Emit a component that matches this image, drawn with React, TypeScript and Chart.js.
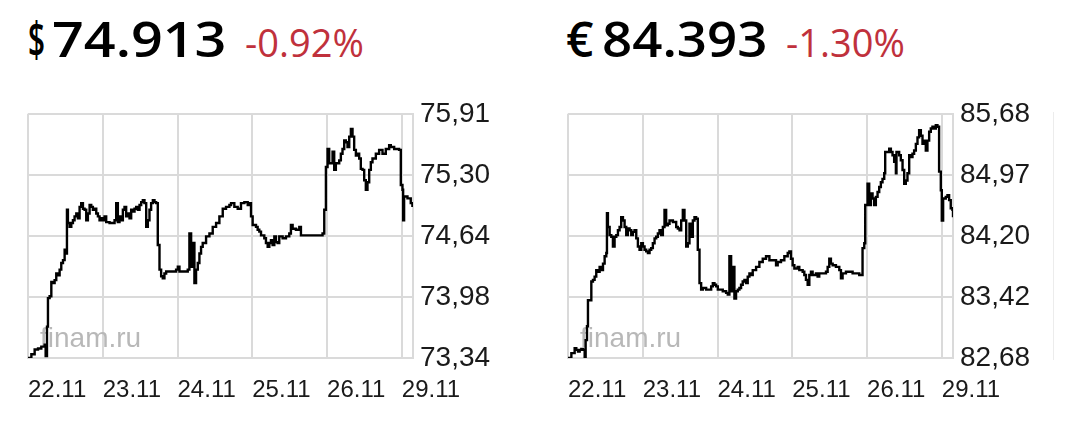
import { useEffect, useRef } from "react"
import { Chart, registerables } from "chart.js"

Chart.register(...registerables)

// trading days on the x axis (one unit per session)
const dayLabels = ["22.11", "23.11", "24.11", "25.11", "26.11", "29.11"]
const xMax = 5.15

const usdTicks = ["73,34", "73,98", "74,64", "75,30", "75,91"]
const eurTicks = ["82,68", "83,42", "84,20", "84,97", "85,68"]

const usdTime = [
  0, 0.045, 0.089, 0.134, 0.178, 0.223, 0.236, 0.254, 0.267, 0.289, 0.312, 0.334, 0.356, 0.378, 0.401, 0.423,
  0.445, 0.468, 0.49, 0.512, 0.521, 0.534, 0.557, 0.579, 0.601, 0.623, 0.646, 0.668, 0.69, 0.712, 0.735, 0.757,
  0.779, 0.801, 0.824, 0.846, 0.868, 0.89, 0.913, 0.935, 0.957, 0.98, 1.002, 1.024, 1.046, 1.091, 1.135, 1.158,
  1.18, 1.202, 1.224, 1.247, 1.269, 1.291, 1.313, 1.336, 1.358, 1.38, 1.403, 1.425, 1.447, 1.469, 1.492, 1.514,
  1.536, 1.558, 1.581, 1.603, 1.625, 1.647, 1.67, 1.692, 1.714, 1.736, 1.759, 1.781, 1.803, 1.825, 1.848, 1.937,
  1.981, 2.004, 2.026, 2.115, 2.137, 2.159, 2.182, 2.204, 2.226, 2.248, 2.271, 2.293, 2.315, 2.337, 2.382, 2.427,
  2.471, 2.516, 2.56, 2.605, 2.649, 2.694, 2.716, 2.76, 2.805, 2.849, 2.894, 2.939, 2.961, 2.983, 3.005, 3.05,
  3.072, 3.094, 3.117, 3.161, 3.183, 3.206, 3.228, 3.25, 3.272, 3.295, 3.317, 3.339, 3.361, 3.406, 3.451, 3.495,
  3.517, 3.54, 3.584, 3.629, 3.651, 3.762, 3.896, 3.94, 3.963, 3.985, 4.007, 4.029, 4.074, 4.096, 4.118, 4.163,
  4.185, 4.207, 4.23, 4.252, 4.274, 4.297, 4.319, 4.341, 4.363, 4.386, 4.408, 4.43, 4.452, 4.475, 4.497, 4.519,
  4.541, 4.564, 4.586, 4.608, 4.653, 4.697, 4.742, 4.786, 4.831, 4.853, 4.898, 4.942, 4.964, 4.987, 5.009, 5.018,
  5.031, 5.076, 5.12, 5.142,
]

const usdRate = [
  73.34, 73.38, 73.43, 73.44, 73.46, 73.48, 73.36, 73.67, 73.97, 73.99, 74.14, 74.13, 74.16, 74.23, 74.21, 74.27,
  74.34, 74.37, 74.48, 74.44, 74.9, 74.76, 74.72, 74.76, 74.79, 74.83, 74.86, 74.81, 74.93, 74.97, 74.91, 74.9,
  74.79, 74.86, 74.95, 74.93, 74.9, 74.91, 74.86, 74.83, 74.79, 74.81, 74.79, 74.83, 74.77, 74.76, 74.76, 74.79,
  74.97, 74.77, 74.83, 74.79, 74.9, 74.93, 74.83, 74.86, 74.81, 74.9, 74.88, 74.91, 74.93, 74.9, 74.95, 74.98,
  75.0, 74.97, 74.72, 74.79, 74.9, 74.97, 75.0, 74.98, 74.97, 74.53, 74.27, 74.2, 74.18, 74.23, 74.25, 74.25,
  74.27, 74.3, 74.25, 74.25, 74.27, 74.65, 74.3, 74.55, 74.13, 74.27, 74.34, 74.44, 74.51, 74.55, 74.62, 74.65,
  74.72, 74.76, 74.83, 74.91, 74.93, 74.95, 74.97, 74.93, 74.91, 74.97, 74.98, 74.95, 74.97, 74.83, 74.74, 74.72,
  74.69, 74.67, 74.63, 74.6, 74.55, 74.51, 74.55, 74.58, 74.53, 74.62, 74.56, 74.55, 74.62, 74.6, 74.62, 74.65,
  74.74, 74.7, 74.69, 74.72, 74.63, 74.63, 74.63, 74.65, 74.9, 75.35, 75.54, 75.39, 75.51, 75.32, 75.39, 75.42,
  75.49, 75.54, 75.63, 75.61, 75.56, 75.67, 75.75, 75.67, 75.53, 75.47, 75.49, 75.44, 75.33, 75.32, 75.21, 75.11,
  75.19, 75.32, 75.4, 75.44, 75.49, 75.53, 75.49, 75.54, 75.58, 75.56, 75.54, 75.54, 75.53, 75.16, 75.11, 74.79,
  75.04, 75.02, 74.97, 74.93,
]

const eurTime = [
  0, 0.045, 0.089, 0.111, 0.134, 0.156, 0.178, 0.2, 0.223, 0.236, 0.254, 0.267, 0.289, 0.312, 0.334, 0.356,
  0.378, 0.401, 0.423, 0.445, 0.468, 0.49, 0.512, 0.521, 0.534, 0.557, 0.579, 0.601, 0.623, 0.646, 0.668, 0.69,
  0.712, 0.735, 0.757, 0.779, 0.801, 0.824, 0.846, 0.868, 0.89, 0.913, 0.935, 0.957, 0.98, 1.002, 1.024, 1.046,
  1.069, 1.091, 1.113, 1.135, 1.158, 1.18, 1.202, 1.224, 1.247, 1.269, 1.291, 1.313, 1.336, 1.358, 1.403, 1.447,
  1.469, 1.492, 1.514, 1.536, 1.558, 1.581, 1.603, 1.625, 1.647, 1.67, 1.692, 1.714, 1.736, 1.759, 1.781, 1.803,
  1.848, 1.892, 1.915, 1.937, 1.959, 1.981, 2.004, 2.026, 2.07, 2.115, 2.137, 2.159, 2.182, 2.204, 2.226, 2.248,
  2.271, 2.293, 2.315, 2.337, 2.36, 2.382, 2.404, 2.427, 2.449, 2.471, 2.516, 2.56, 2.605, 2.649, 2.694, 2.738,
  2.783, 2.805, 2.849, 2.894, 2.939, 2.961, 2.983, 3.005, 3.028, 3.072, 3.094, 3.139, 3.161, 3.183, 3.206, 3.228,
  3.25, 3.272, 3.317, 3.339, 3.361, 3.406, 3.451, 3.473, 3.495, 3.517, 3.54, 3.584, 3.629, 3.651, 3.673, 3.718,
  3.762, 3.807, 3.851, 3.896, 3.918, 3.94, 3.963, 3.976, 4.007, 4.029, 4.052, 4.074, 4.096, 4.118, 4.141, 4.163,
  4.185, 4.207, 4.23, 4.243, 4.274, 4.297, 4.319, 4.341, 4.363, 4.386, 4.394, 4.43, 4.452, 4.475, 4.497, 4.519,
  4.541, 4.564, 4.586, 4.608, 4.63, 4.653, 4.675, 4.697, 4.72, 4.742, 4.764, 4.786, 4.808, 4.831, 4.853, 4.875,
  4.898, 4.92, 4.942, 4.964, 4.987, 5.0, 5.018, 5.053, 5.076, 5.098, 5.12, 5.142, 5.15,
]

const eurRate = [
  82.68, 82.74, 82.8, 82.78, 82.76, 82.78, 82.79, 82.78, 82.68, 82.9, 83.07, 83.39, 83.39, 83.62, 83.64, 83.68,
  83.76, 83.74, 83.8, 83.76, 83.84, 83.93, 83.97, 84.46, 84.29, 84.19, 84.17, 84.05, 84.17, 84.19, 84.25, 84.29,
  84.41, 84.37, 84.29, 84.19, 84.27, 84.25, 84.19, 84.23, 84.25, 84.15, 84.05, 84.01, 84.09, 84.05, 84.01, 83.99,
  83.97, 84.01, 84.03, 84.09, 84.15, 84.17, 84.21, 84.25, 84.19, 84.29, 84.5, 84.31, 84.33, 84.37, 84.35, 84.29,
  84.27, 84.25, 84.37, 84.5, 84.37, 84.05, 84.09, 84.33, 84.17, 84.37, 84.41, 84.39, 84.01, 83.6, 83.52, 83.54,
  83.52, 83.52, 83.56, 83.6, 83.58, 83.56, 83.52, 83.52, 83.5, 83.48, 83.46, 83.93, 83.5, 83.8, 83.41, 83.5,
  83.52, 83.54, 83.58, 83.62, 83.64, 83.6, 83.68, 83.72, 83.7, 83.76, 83.8, 83.86, 83.9, 83.93, 83.88, 83.88,
  83.82, 83.86, 83.88, 83.93, 83.97, 83.99, 83.9, 83.82, 83.78, 83.8, 83.76, 83.74, 83.7, 83.64, 83.58, 83.7,
  83.74, 83.7, 83.72, 83.68, 83.72, 83.72, 83.74, 83.8, 83.9, 83.84, 83.82, 83.8, 83.76, 83.66, 83.72, 83.74,
  83.74, 83.72, 83.72, 83.7, 83.7, 84.03, 84.09, 84.56, 84.82, 84.56, 84.7, 84.64, 84.56, 84.66, 84.72, 84.78,
  84.84, 84.88, 84.95, 85.21, 85.21, 85.25, 85.21, 85.17, 85.09, 84.95, 85.21, 85.17, 85.11, 84.99, 84.82, 84.86,
  84.95, 85.17, 85.15, 85.19, 85.23, 85.31, 85.39, 85.48, 85.41, 85.31, 85.35, 85.23, 85.35, 85.46, 85.5, 85.52,
  85.5, 85.54, 85.52, 84.97, 84.74, 84.37, 84.64, 84.66, 84.68, 84.62, 84.52, 84.5, 84.41,
]

const GRID = "#dadada"
const TEXT = "#1a1a1a"

// "finam.ru" mark under the line
const watermark = {
  id: "watermark",
  beforeDatasetsDraw(chart: any) {
    const { ctx, chartArea } = chart
    ctx.save()
    ctx.font = '28px "Liberation Sans"'
    ctx.fillStyle = "#b8b8b8"
    ctx.textBaseline = "alphabetic"
    ctx.fillText("finam.ru", chartArea.left + 12, chartArea.bottom - 11)
    ctx.restore()
  },
}

const toNum = (s: string) => parseFloat(s.replace(",", "."))

interface RateChartProps {
  times: number[]
  rates: number[]
  tickLabels: string[]
  left: number
}

function RateChart({ times, rates, tickLabels, left }: RateChartProps) {
  const chartRef = useRef<HTMLCanvasElement>(null)

  useEffect(() => {
    if (!chartRef.current) return
    const ctx = chartRef.current.getContext("2d")
    if (!ctx) return

    const min = toNum(tickLabels[0])
    const max = toNum(tickLabels[tickLabels.length - 1])
    const step = (max - min) / (tickLabels.length - 1)

    const chart = new Chart(ctx, {
      type: "line",
      data: {
        datasets: [
          {
            data: times.map((t, i) => ({ x: t, y: rates[i] })),
            borderColor: "#000",
            borderWidth: 2.4,
            pointRadius: 0,
            stepped: true,
            fill: false,
          },
        ],
      },
      options: {
        animation: false,
        responsive: true,
        maintainAspectRatio: false,
        layout: { padding: { left: 28, top: 23, right: 0, bottom: 0 } },
        plugins: { legend: { display: false }, tooltip: { enabled: false } },
        scales: {
          x: {
            type: "linear",
            min: 0,
            max: xMax,
            afterBuildTicks: (scale: any) => {
              scale.ticks = dayLabels.map((_, i) => ({ value: i }))
            },
            afterFit: (scale: any) => {
              scale.height = 62
            },
            ticks: {
              callback: (_v: any, i: number) => dayLabels[i],
              align: "start",
              autoSkip: false,
              maxRotation: 0,
              padding: 18,
              color: TEXT,
              font: { family: "Liberation Sans", size: 24 },
            },
            grid: { color: GRID, lineWidth: 2, drawTicks: false },
            border: { color: GRID, width: 2 },
          },
          y: {
            type: "linear",
            position: "right",
            min,
            max,
            afterBuildTicks: (scale: any) => {
              scale.ticks = tickLabels.map((_, i) => ({ value: min + i * step }))
            },
            afterFit: (scale: any) => {
              scale.width = 87
            },
            ticks: {
              callback: (_v: any, i: number) => tickLabels[i],
              padding: 7,
              color: TEXT,
              font: { family: "Liberation Sans", size: 28 },
            },
            grid: { color: GRID, lineWidth: 2, drawTicks: false },
            border: { color: GRID, width: 2 },
          },
        },
      } as any,
      plugins: [watermark],
    })

    return () => {
      chart.destroy()
    }
  }, [times, rates, tickLabels])

  return (
    <div style={{ position: "absolute", left, top: 90, width: 500, height: 330 }}>
      <canvas ref={chartRef} />
    </div>
  )
}

interface QuoteProps {
  symbol: string
  price: string
  change: string
  left: number
  symbolWidth: number
  symbolStretch: number
  priceWidth: number
  stretch: number
}

function Quote({ symbol, price, change, left, symbolWidth, symbolStretch, priceWidth, stretch }: QuoteProps) {
  const big = { fontFamily: '"Open Sans"', fontSize: 48, fontWeight: 550, color: "#000" }
  return (
    <div style={{ position: "absolute", left, top: 6, display: "flex", alignItems: "baseline", whiteSpace: "nowrap" }}>
      <span style={{ ...big, display: "inline-block", width: symbolWidth }}>
        <span style={{ display: "inline-block", transform: `scaleX(${symbolStretch})`, transformOrigin: "left" }}>{symbol}</span>
      </span>
      <span style={{ ...big, display: "inline-block", width: priceWidth }}>
        <span style={{ display: "inline-block", transform: `scaleX(${stretch})`, transformOrigin: "left" }}>{price}</span>
      </span>
      <span style={{ fontFamily: '"Open Sans"', fontSize: 38, color: "#c0313c" }}>{change}</span>
    </div>
  )
}

export default function App() {
  return (
    <div style={{ position: "fixed", left: 0, top: 0, width: 1080, height: 431, background: "#fff", overflow: "hidden" }}>
      <Quote symbol="$" price="74.913" change="-0.92%" left={28} symbolWidth={24} symbolStretch={0.62} priceWidth={193} stretch={1.16} />
      <Quote symbol="€" price="84.393" change="-1.30%" left={566} symbolWidth={36} symbolStretch={1} priceWidth={184} stretch={1.1} />
      <RateChart times={usdTime} rates={usdRate} tickLabels={usdTicks} left={0} />
      <RateChart times={eurTime} rates={eurRate} tickLabels={eurTicks} left={540} />
      <div style={{ position: "absolute", left: 1053, top: 112, width: 1, height: 248, background: "#ececec" }} />
    </div>
  )
}
